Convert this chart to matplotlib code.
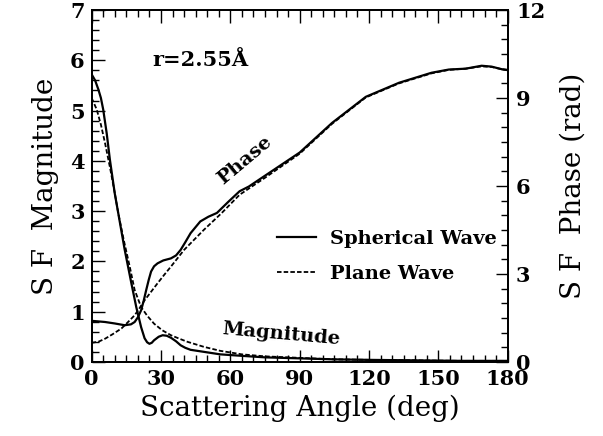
import matplotlib.pyplot as plt
from matplotlib.ticker import MultipleLocator

# magnitude, spherical wave (left axis)
sph_mag_deg = [0, 1.5, 2.9, 4, 5, 6.5, 7.9, 10, 11.5, 14.3, 17.2, 19.3, 21.4, 22.9, 24, 25, 26, 27, 29, 30.7,
               32.5, 34.3, 36.5, 38.5, 40.5, 42.8, 48.5, 55.6, 65, 75, 90, 105, 120, 140, 160, 180]
sph_mag = [5.72, 5.6, 5.42, 5.25, 5.02, 4.55, 4.02, 3.35, 2.96, 2.23, 1.56, 1.09, 0.69, 0.47, 0.39, 0.36,
           0.38, 0.43, 0.5, 0.53, 0.52, 0.48, 0.41, 0.33, 0.28, 0.24, 0.2, 0.15, 0.12, 0.09, 0.07, 0.05,
           0.04, 0.03, 0.02, 0.02]

# magnitude, plane wave
pln_mag_deg = [0, 2.2, 4, 5.8, 8, 10, 11.5, 14, 16.5, 18.6, 21.4, 24, 27, 30.5, 34.3, 38, 41.4, 48.5, 55.6,
               65, 75, 90, 105, 120, 140, 160, 180]
pln_mag = [5.25, 5.02, 4.72, 4.35, 3.85, 3.36, 2.96, 2.4, 1.89, 1.43, 1.09, 0.92, 0.76, 0.63, 0.53, 0.46,
           0.4, 0.3, 0.22, 0.15, 0.11, 0.08, 0.05, 0.04, 0.03, 0.02, 0.02]

# phase, spherical wave (right axis, rad)
sph_ph_deg = [0, 5.8, 10, 14.3, 17, 18.6, 20, 21.4, 22.5, 23.6, 24.7, 25.7, 27, 28.5, 31, 34.3, 36.5, 38.5,
              40.5, 42.8, 45, 47, 50.5, 54.2, 59, 64, 68, 75, 90, 104, 118.6, 133, 147, 154.5, 161.8,
              168.7, 173, 177.5, 180]
sph_ph = [1.40, 1.36, 1.31, 1.25, 1.28, 1.36, 1.52, 1.76, 2.08, 2.45, 2.8, 3.08, 3.26, 3.36, 3.46, 3.53,
          3.63, 3.82, 4.08, 4.39, 4.6, 4.79, 4.95, 5.08, 5.45, 5.82, 5.98, 6.35, 7.14, 8.15, 9.04, 9.52,
          9.86, 9.97, 10.0, 10.1, 10.07, 9.98, 9.95]

# phase, plane wave
pln_ph_deg = [0, 3, 5.8, 9, 12.9, 15.5, 18.6, 20.8, 22.9, 25.7, 28.5, 31.4, 34.3, 40, 48.5, 56.3, 64, 75,
              90, 104, 118.6, 133, 147, 154.5, 161.8, 168.7, 173, 177.5, 180]
pln_ph = [0.65, 0.69, 0.79, 0.94, 1.14, 1.34, 1.59, 1.84, 2.1, 2.39, 2.68, 2.97, 3.25, 3.82, 4.5, 5.08,
          5.7, 6.28, 7.1, 8.12, 9.02, 9.5, 9.84, 9.96, 10.0, 10.08, 10.06, 9.98, 9.95]

x_ticks = [0, 30, 60, 90, 120, 150, 180]

plt.rcParams['font.family'] = 'DejaVu Serif'
plt.rcParams['font.weight'] = 'bold'

fig = plt.figure(figsize=(6.03, 4.36), dpi=100)
ax = fig.add_axes([0.152, 0.170, 0.690, 0.807])
ax2 = ax.twinx()

ax.plot(sph_mag_deg, sph_mag, color='black', lw=1.6, label='Spherical Wave')
ax.plot(pln_mag_deg, pln_mag, color='black', lw=1.3, ls=(0, (2.5, 1.2)), label='Plane Wave')
ax2.plot(sph_ph_deg, sph_ph, color='black', lw=1.6)
ax2.plot(pln_ph_deg, pln_ph, color='black', lw=1.3, ls=(0, (2.5, 1.2)))

ax.set_xlim(0, 180)
ax.set_ylim(0, 7)
ax2.set_ylim(0, 12)
ax.set_xticks(x_ticks)
ax.xaxis.set_minor_locator(MultipleLocator(5))
ax.yaxis.set_major_locator(MultipleLocator(1))
ax.yaxis.set_minor_locator(MultipleLocator(0.2))
ax2.yaxis.set_major_locator(MultipleLocator(3))
ax2.yaxis.set_minor_locator(MultipleLocator(0.5))

ax.tick_params(which='both', direction='in', top=True, labelsize=15, width=1)
ax.tick_params(which='major', length=9, pad=5)
ax.tick_params(which='minor', length=5)
ax2.tick_params(which='both', direction='in', labelsize=15, width=1)
ax2.tick_params(which='major', length=9, pad=6)
ax2.tick_params(which='minor', length=5)
for a in (ax, ax2):
    for s in a.spines.values():
        s.set_linewidth(1.3)

ax.set_xlabel('Scattering Angle (deg)', fontsize=20, fontweight='normal', labelpad=4)
ax.set_ylabel('S F  Magnitude', fontsize=20, fontweight='normal', labelpad=8)
ax2.set_ylabel('S F  Phase (rad)', fontsize=20, fontweight='normal', labelpad=10)

ax.text(47, 6.0, 'r=2.55Å', fontsize=15, ha='center', va='center')
ax.text(66, 4.0, 'Phase', fontsize=14, ha='center', va='center', rotation=40)
ax.text(82, 0.56, 'Magnitude', fontsize=14, ha='center', va='center', rotation=-5)

ax.legend(loc='center right', bbox_to_anchor=(1.015, 0.30), frameon=False, fontsize=14,
          handlelength=2.0, handletextpad=0.7, labelspacing=0.85)

fig.savefig('out.png', dpi=100)
